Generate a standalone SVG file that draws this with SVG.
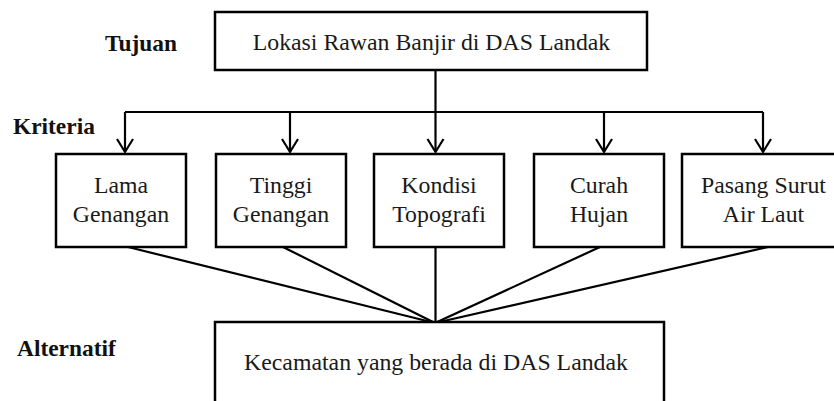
<svg xmlns="http://www.w3.org/2000/svg" width="834" height="401" viewBox="0 0 834 401">
<defs>
<marker id="arr" markerUnits="userSpaceOnUse" markerWidth="20" markerHeight="20" refX="16" refY="10" orient="auto" viewBox="0 0 20 20">
<path d="M3,2 L16,10 L3,18" fill="none" stroke="#000" stroke-width="2.2"/>
</marker>
</defs>
<style>
rect.box{fill:#fff;stroke:#000;stroke-width:2.5}
text{font-family:"Liberation Serif","Times New Roman",Tinos,"DejaVu Serif",serif}
.t{font-size:23.8px;fill:#1a1a1a;text-anchor:middle}
.lbl{font-size:23.4px;font-weight:bold;fill:#111}
.c{fill:none;stroke:#000;stroke-width:2.2}
</style>
<rect width="834" height="401" fill="#fff"/>
<text class="lbl" x="105" y="51">Tujuan</text>
<text class="lbl" x="13" y="134">Kriteria</text>
<text class="lbl" x="17" y="356">Alternatif</text>
<g id="connectors">
<path class="c" d="M435.5,70 V112"/>
<path class="c" d="M125,112 H763"/>
<path class="c" d="M125,112 V152" marker-end="url(#arr)"/>
<path class="c" d="M290,112 V152" marker-end="url(#arr)"/>
<path class="c" d="M435.5,112 V152" marker-end="url(#arr)"/>
<path class="c" d="M604,112 V152" marker-end="url(#arr)"/>
<path class="c" d="M763,112 V152" marker-end="url(#arr)"/>
<path class="c" d="M128,247 L435,323"/>
<path class="c" d="M283,247 L435,323"/>
<path class="c" d="M435.5,247 V323"/>
<path class="c" d="M600,247 L435,323"/>
<path class="c" d="M768,247 L435,323"/>
</g>
<g id="goal">
<rect class="box" x="215" y="12" width="432" height="58"/>
<text class="t" x="431.5" y="50">Lokasi Rawan Banjir di DAS Landak</text>
</g>
<g id="c1">
<rect class="box" x="56" y="154" width="130" height="93"/>
<text class="t" x="121" y="193">Lama</text>
<text class="t" x="121" y="222">Genangan</text>
</g>
<g id="c2">
<rect class="box" x="216" y="154" width="130" height="93"/>
<text class="t" x="281" y="193">Tinggi</text>
<text class="t" x="281" y="222">Genangan</text>
</g>
<g id="c3">
<rect class="box" x="374" y="154" width="130" height="93"/>
<text class="t" x="439" y="193">Kondisi</text>
<text class="t" x="439" y="222">Topografi</text>
</g>
<g id="c4">
<rect class="box" x="534" y="154" width="130" height="93"/>
<text class="t" x="599" y="193">Curah</text>
<text class="t" x="599" y="222">Hujan</text>
</g>
<g id="c5">
<rect class="box" x="682" y="154" width="164" height="93"/>
<text class="t" x="763.5" y="193">Pasang Surut</text>
<text class="t" x="763.5" y="222">Air Laut</text>
</g>
<g id="alt">
<rect class="box" x="215" y="322" width="449" height="82"/>
<text class="t" x="436" y="370">Kecamatan yang berada di DAS Landak</text>
</g>
</svg>
